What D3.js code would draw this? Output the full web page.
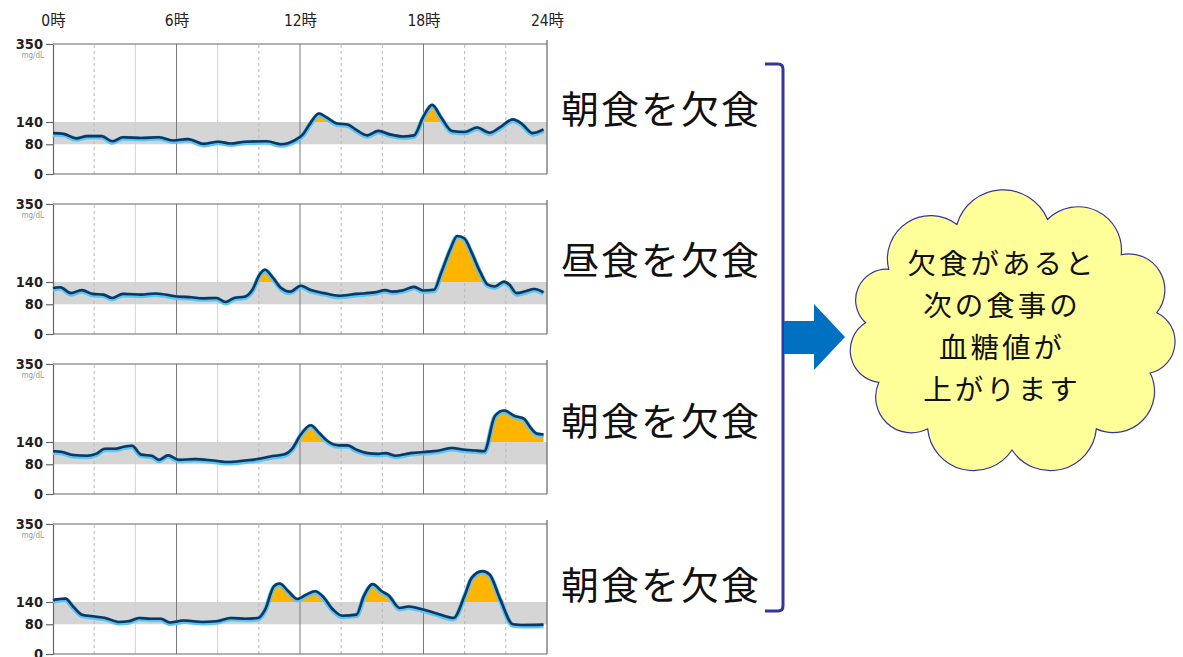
<!DOCTYPE html>
<html><head><meta charset="utf-8">
<script src="https://cdn.jsdelivr.net/npm/d3@7"></script>
<style>body{margin:0;background:#fff}svg{display:block}</style>
</head><body>
<svg id="c" width="1183" height="657"></svg>
<script>
// ---------- data ----------
const hourTicks = [0, 6, 12, 18, 24];
const hourLabels = ["0時", "6時", "12時", "18時", "24時"];
const gridHours = [2, 4, 6, 8, 10, 12, 14, 16, 18, 20, 22];
const majorGridHours = [6, 12, 18];
const solidMinorHours = [4, 8];
const yTickValues = [0, 80, 140, 350];
const targetLow = 80;
const targetHigh = 140;
const yMax = 350;
const unitLabel = "mg/dL";
const panelLabels = ["朝食を欠食", "昼食を欠食", "朝食を欠食", "朝食を欠食"];
const cloudLines = ["欠食があると", "次の食事の", "血糖値が", "上がります"];

const times1 = [0,0.52,1.13,1.66,2.36,2.88,3.40,4.28,5.15,5.85,6.55,7.33,8.03,8.64,9.34,10.39,11.08,11.78,12.13,12.48,12.92,13.27,13.79,14.31,14.75,15.27,15.80,16.41,17.02,17.54,17.98,18.42,18.85,19.38,19.99,20.60,21.21,21.73,22.34,22.78,23.30,23.83];
const glucose1 = [110,108,96,102,102,88,99,97,99,90,94,81,87,82,87,88,80,92,106,135,163,153,136,133,118,104,116,106,101,104,153,186,153,116,113,125,111,126,147,135,110,120];

const times2 = [0,0.35,0.87,1.40,1.92,2.44,2.88,3.40,4.28,4.98,6.02,6.72,7.24,7.94,8.38,8.81,9.34,9.69,10.04,10.30,10.65,11.08,11.52,12.04,12.48,13.18,13.87,14.75,15.62,16.15,16.50,17.02,17.54,17.98,18.51,18.86,19.30,19.64,19.99,20.34,20.77,21.12,21.47,21.91,22.17,22.52,22.96,23.39,23.83];
const glucose2 = [124,126,110,118,108,106,97,108,106,109,101,99,96,97,86,97,101,119,160,173,154,124,114,130,119,110,103,108,112,118,114,118,127,117,119,165,228,264,257,219,165,133,128,141,133,110,115,121,112];

const times3 = [0,0.44,0.96,1.66,2.09,2.53,3.05,3.49,3.84,4.28,4.80,5.15,5.59,6.11,6.89,7.77,8.55,9.34,9.95,10.56,11.26,11.61,12.04,12.52,12.92,13.35,13.88,14.31,14.75,15.27,15.80,16.15,16.67,17.37,18.24,18.77,19.38,19.99,20.51,20.95,21.47,21.91,22.43,22.87,23.21,23.48,23.83];
const glucose3 = [115,113,105,103,108,122,122,128,130,106,103,92,104,92,94,90,86,90,94,101,107,121,160,185,165,142,131,131,119,110,108,110,103,110,114,117,124,119,117,115,210,225,210,203,178,163,160];

const times4 = [0,0.61,0.96,1.40,2.01,2.53,3.23,3.67,4.19,4.71,5.24,5.67,6.37,7.24,7.94,8.64,9.34,9.95,10.30,10.73,11.00,11.43,11.87,12.31,12.74,13.09,13.61,14.05,14.75,15.10,15.53,15.97,16.32,16.84,17.28,17.89,18.59,19.46,19.99,20.34,20.86,21.21,21.73,22.34,22.78,23.83];
const glucose4 = [145,149,129,106,101,97,86,88,97,95,95,85,90,86,88,97,95,97,119,182,190,169,148,160,169,156,119,103,106,156,188,169,157,124,128,121,110,97,156,205,223,214,147,80,78,79];

const panelTimes = [times1, times2, times3, times4];
const panelValues = [glucose1, glucose2, glucose3, glucose4];

// ---------- drawing ----------
const svg = d3.select("#c");
const plotLeft = 53, plotRight = 547;
const panelBottom0 = 174, panelStep = 160, panelHeight = 130;
const x = d3.scaleLinear().domain([0, 24]).range([plotLeft, plotRight]);

const tickFont = "'DejaVu Sans Condensed','DejaVu Sans','Noto Sans CJK JP',sans-serif";
const jpFont = "'Noto Sans CJK JP','Noto Sans',sans-serif";

// hour labels on top
const topAxis = svg.append("g").attr("transform", "translate(0,26)")
  .call(d3.axisTop(x).tickValues(hourTicks).tickSize(0).tickPadding(0)
    .tickFormat((d, i) => hourLabels[i]));
topAxis.select(".domain").remove();
topAxis.selectAll("text").attr("font-size", 15.5).attr("fill", "#222")
  .attr("font-family", tickFont);

const defs = svg.append("defs");

panelTimes.forEach((times, p) => {
  const bottom = panelBottom0 + p * panelStep;
  const y = d3.scaleLinear().domain([0, yMax]).range([bottom, bottom - panelHeight]);
  const data = times.map((t, i) => ({ t, v: panelValues[p][i] }));
  const g = svg.append("g");

  // target band
  g.append("rect").attr("x", x(0)).attr("width", x(24) - x(0))
    .attr("y", y(targetHigh)).attr("height", y(targetLow) - y(targetHigh))
    .attr("fill", "#d5d5d5");

  // vertical grid
  g.selectAll("line.grid").data(gridHours).join("line")
    .attr("x1", d => x(d)).attr("x2", d => x(d))
    .attr("y1", y(0)).attr("y2", y(yMax))
    .attr("stroke", d => majorGridHours.includes(d) ? "#7a7a7a" : (solidMinorHours.includes(d) ? "#d0d0d0" : "#b8b8b8"))
    .attr("stroke-width", 1)
    .attr("stroke-dasharray", d => (majorGridHours.includes(d) || solidMinorHours.includes(d)) ? null : "3,3");

  // top line, right border, bottom line
  g.append("line").attr("x1", x(0)).attr("x2", x(24)).attr("y1", y(yMax)).attr("y2", y(yMax))
    .attr("stroke", "#666").attr("stroke-width", 1.2);
  g.append("line").attr("x1", x(24)).attr("x2", x(24)).attr("y1", y(yMax) - 4).attr("y2", y(0))
    .attr("stroke", "#666").attr("stroke-width", 1.2);
  g.append("line").attr("x1", x(0)).attr("x2", x(24)).attr("y1", y(0)).attr("y2", y(0))
    .attr("stroke", "#666").attr("stroke-width", 1.2);

  // y axis
  const ya = g.append("g").attr("transform", `translate(${x(0)},0)`)
    .call(d3.axisLeft(y).tickValues(yTickValues).tickSize(7).tickSizeOuter(0).tickPadding(3));
  ya.select(".domain").attr("stroke", "#666").attr("stroke-width", 1.2);
  ya.selectAll(".tick line").attr("stroke", "#666").attr("stroke-width", 1.2);
  ya.selectAll("text").attr("font-size", 14.5).attr("font-weight", "bold").attr("fill", "#222")
    .attr("font-family", tickFont);

  g.append("text").attr("x", 44).attr("y", y(yMax) + 14).attr("text-anchor", "end")
    .attr("font-size", 8).attr("fill", "#999").attr("font-family", tickFont).text(unitLabel);

  // orange area above 140
  const clipId = "clip" + p;
  defs.append("clipPath").attr("id", clipId).append("rect")
    .attr("x", x(0)).attr("width", x(24) - x(0))
    .attr("y", y(yMax)).attr("height", y(targetHigh) - y(yMax));
  const area = d3.area().x(d => x(d.t)).y0(y(targetHigh)).y1(d => y(d.v)).curve(d3.curveMonotoneX);
  g.append("path").datum(data).attr("d", area).attr("fill", "#ffb400")
    .attr("clip-path", `url(#${clipId})`);

  // glucose line
  const line = d3.line().x(d => x(d.t)).y(d => y(d.v)).curve(d3.curveMonotoneX);
  g.append("path").datum(data).attr("d", line).attr("fill", "none")
    .attr("stroke", "#5cc6f2").attr("stroke-width", 5).attr("stroke-linejoin", "round")
    .attr("transform", "translate(0,1)");
  g.append("path").datum(data).attr("d", line).attr("fill", "none")
    .attr("stroke", "#0f3560").attr("stroke-width", 2.6).attr("stroke-linejoin", "round");
});

// right-side labels
const labelY = [109, 260, 421, 585];
svg.selectAll("text.plabel").data(panelLabels).join("text")
  .attr("x", 561).attr("y", (d, i) => labelY[i]).attr("dy", "0.36em")
  .attr("font-size", 38).attr("letter-spacing", 2).attr("fill", "#111")
  .attr("font-family", jpFont).text(d => d);

// bracket
svg.append("path")
  .attr("d", "M765,64 L778,64 Q783,64 783,69 L783,606 Q783,611 778,611 L765,611")
  .attr("fill", "none").attr("stroke", "#3434a0").attr("stroke-width", 3);

// arrow
svg.append("path")
  .attr("d", "M784,321 L814,321 L814,304 L845,337 L814,370 L814,354 L784,354 Z")
  .attr("fill", "#0070c0");

// cloud
const cx = 1012, cy = 333, rx = 147, ry = 117;
const cloudAngles = [185, 213, 248, 284, 318, 350, 380, 415, 450, 485, 515];
const pts = cloudAngles.map(a => {
  const r = a * Math.PI / 180;
  return [cx + rx * Math.cos(r), cy + ry * Math.sin(r)];
});
let dPath = `M${pts[0][0]},${pts[0][1]}`;
pts.forEach((p0, i) => {
  const p1 = pts[(i + 1) % pts.length];
  const chord = Math.hypot(p1[0] - p0[0], p1[1] - p0[1]);
  const rr = chord * 0.53;
  dPath += ` A${rr},${rr} 0 0 1 ${p1[0]},${p1[1]}`;
});
dPath += " Z";
svg.append("path").attr("d", dPath).attr("fill", "#ffff99")
  .attr("stroke", "#3434a0").attr("stroke-width", 1.2);

const cloudY = [264, 306, 348, 390];
svg.selectAll("text.cloud").data(cloudLines).join("text")
  .attr("x", 1002).attr("y", (d, i) => cloudY[i]).attr("dy", "0.36em")
  .attr("text-anchor", "middle").attr("font-size", 28.5).attr("letter-spacing", 3)
  .attr("fill", "#111").attr("font-family", jpFont).text(d => d);
</script>
</body></html>
